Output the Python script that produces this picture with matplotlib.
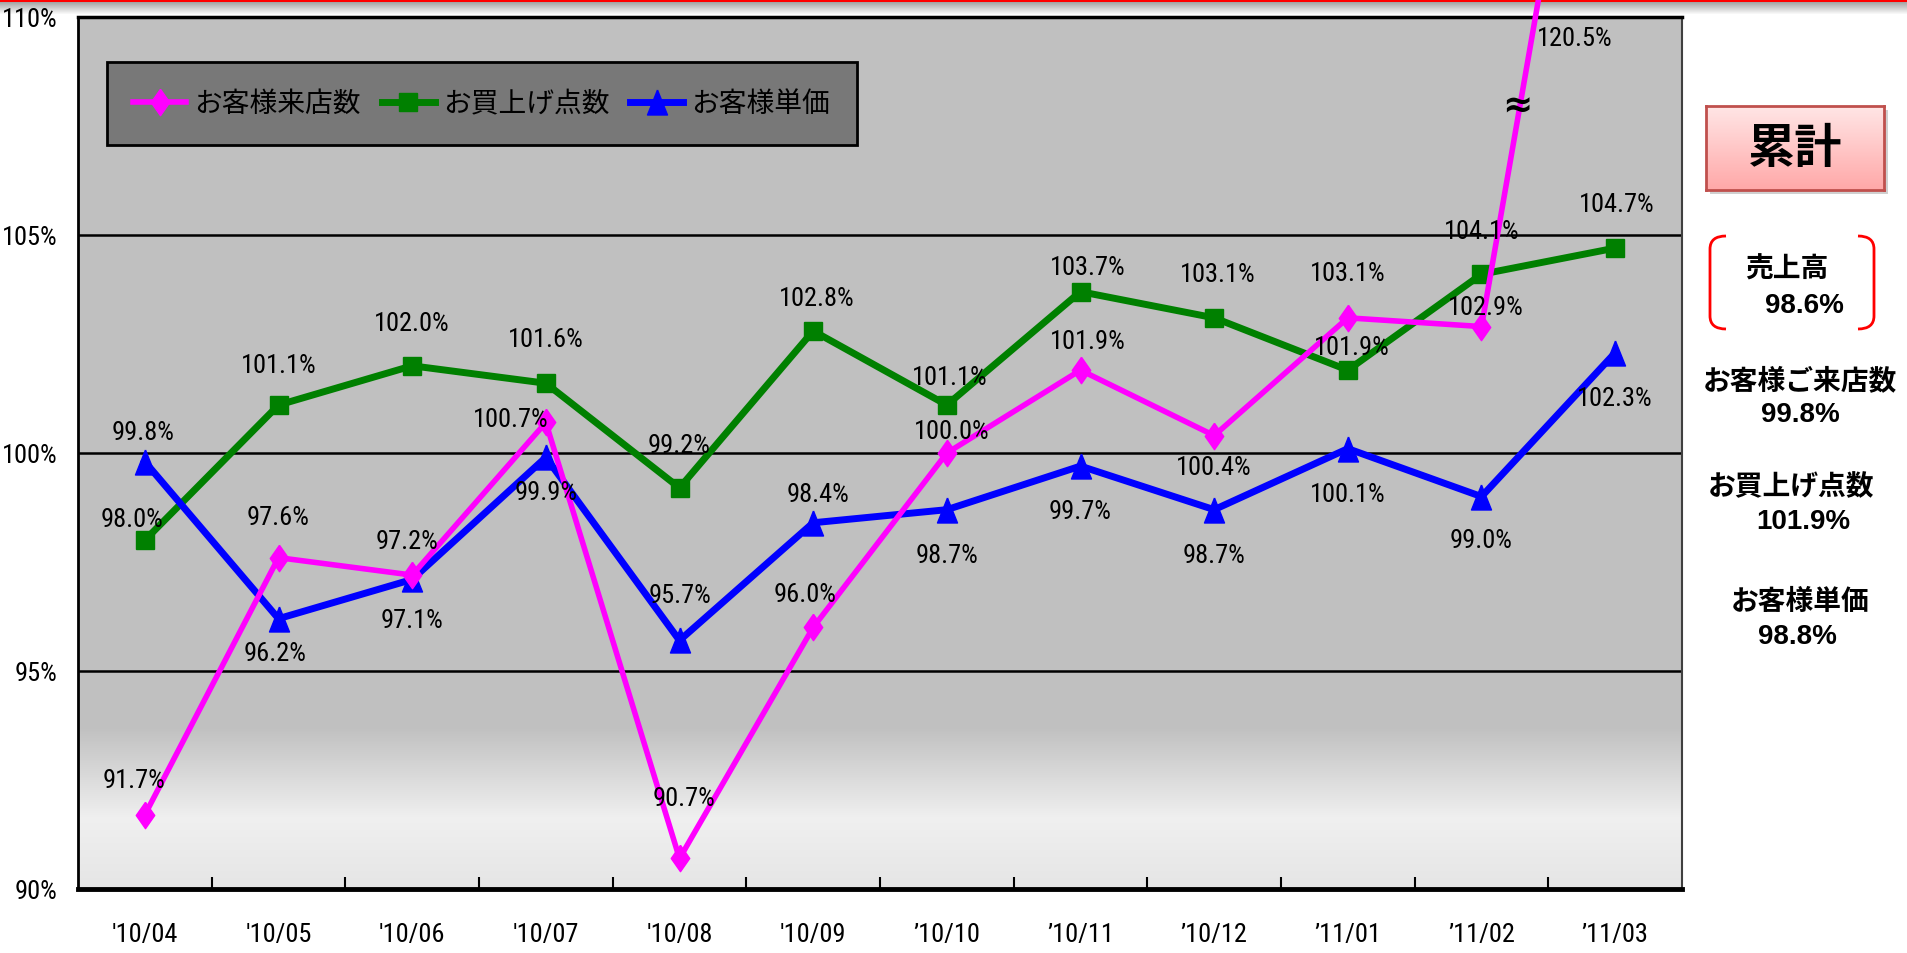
import numpy as np
import matplotlib
matplotlib.use('Agg')
import matplotlib.pyplot as plt
from matplotlib import font_manager
from matplotlib.font_manager import FontProperties
from matplotlib.path import Path
from matplotlib.patches import PathPatch, Rectangle

# データ
months = ["'10/04", "'10/05", "'10/06", "'10/07", "'10/08", "'10/09",
          "’10/10", "’10/11", "’10/12", "’11/01", "’11/02", "’11/03"]
raiten = [91.7, 97.6, 97.2, 100.7, 90.7, 96.0, 100.0, 101.9, 100.4, 103.1, 102.9, 120.5]
tensu = [98.0, 101.1, 102.0, 101.6, 99.2, 102.8, 101.1, 103.7, 103.1, 101.9, 104.1, 104.7]
tanka = [99.8, 96.2, 97.1, 99.9, 95.7, 98.4, 98.7, 99.7, 98.7, 100.1, 99.0, 102.3]
series_names = ['お客様来店数', 'お買上げ点数', 'お客様単価']
y_ticks = [90, 95, 100, 105, 110]

# 累計
ruikei_labels = ['売上高', 'お客様ご来店数', 'お買上げ点数', 'お客様単価']
ruikei_values = [98.6, 99.8, 101.9, 98.8]

W, H = 1907, 954
JP = ['Noto Sans CJK JP', 'DejaVu Sans']

# 細いフォントがあれば使う
narrow = None
for f in font_manager.fontManager.ttflist:
    nm = f.name
    if 'DejaVu' in nm or 'Mono' in nm or 'Serif' in nm:
        continue
    if f.weight not in (400, 'normal', 'regular', 'Regular'):
        continue
    if f.style != 'normal':
        continue
    if 'Narrow' in nm or 'Condensed' in nm or f.stretch in ('condensed', 'semi-condensed', 'extra-condensed'):
        narrow = f.fname
        if 'Liberation' in nm:
            break
if narrow:
    LBL = FontProperties(fname=narrow, size=19)
else:
    LBL = FontProperties(family='Liberation Sans', size=15)


def fx(px):
    return px / W


def fy(py):
    return 1 - py / H


fig = plt.figure(figsize=(W / 100, H / 100), dpi=100)

# 上の赤いライン
top = fig.add_axes([0, fy(16), 1, 16 / H], zorder=0)
strip = np.ones((16, 1, 3))
strip[:3] = [1.0, 0.0, 0.0]
strip[3:, 0, :] = np.linspace(0.65, 1.0, 13)[:, None]
top.imshow(strip, aspect='auto', extent=(0, 1, 0, 1))
top.axis('off')

ax = fig.add_axes([fx(78), fy(890), 1604 / W, 872 / H], zorder=2)
x = np.arange(len(months))

# 背景グラデーション
yy = np.linspace(110, 90, 400)
shade = np.interp(yy, [90, 91.6, 93.7, 110], [0.90, 0.94, 0.753, 0.753])
ax.imshow(shade[:, None, None] * np.ones((1, 1, 3)), extent=(-0.5, 11.5, 90, 110),
          aspect='auto', zorder=0)

for g in [95, 100, 105]:
    ax.axhline(g, color='black', lw=1.8, zorder=1)

diamond = [(0, 0.5), (0.35, 0), (0, -0.5), (-0.35, 0), (0, 0.5)]
tri = [(0, 0.5), (-0.4, -0.5), (0.4, -0.5), (0, 0.5)]

l1, = ax.plot(x, raiten, color='#ff00ff', lw=4, marker=diamond, ms=19,
              zorder=5, clip_on=False, label=series_names[0])
l2, = ax.plot(x, tensu, color='#008000', lw=5, marker='s', ms=13.5,
              zorder=3, label=series_names[1])
l3, = ax.plot(x, tanka, color='#0000ff', lw=5, marker=tri, ms=18,
              zorder=4, label=series_names[2])

# ラベル位置 (pixel offset)
raiten_off = [(-11, 35), (0, 41), (-5, 34), (-35, 3), (5, 60), (-8, 33),
              (5, 22), (7, 29), (0, -31), (0, 45), (4, 20), None]
tensu_off = [(-13, 21), (0, 40), (0, 43), (0, 44), (0, 43), (4, 33),
             (3, 28), (7, 25), (4, 44), (4, 23), (0, 43), (2, 44)]
tanka_off = [(-2, 30), (-3, -34), (0, -41), (0, -35), (0, 45), (5, 29),
             (0, -45), (0, -45), (0, -45), (0, -45), (0, -43), (0, -45)]

for vals, offs in [(raiten, raiten_off), (tensu, tensu_off), (tanka, tanka_off)]:
    for i, (v, o) in enumerate(zip(vals, offs)):
        if o is None:
            continue
        ax.annotate(f'{v:.1f}%', xy=(i, v), xytext=o, textcoords='offset pixels',
                    ha='center', va='center', fontproperties=LBL, zorder=6)

# 120.5% はグラフ外
ax.annotate(f'{raiten[-1]:.1f}%', xy=(11, 110), xytext=(-40, -21), textcoords='offset pixels',
            ha='center', va='center', fontproperties=LBL, zorder=6)
ax.annotate('≈', xy=(11, 110), xytext=(-98, -89), textcoords='offset pixels',
            ha='center', va='center', fontsize=26, fontweight='bold', family='DejaVu Sans', zorder=7)

ax.set_xlim(-0.5, 11.5)
ax.set_ylim(90, 110)
ax.set_xticks(x)
ax.set_xticklabels(months, fontproperties=LBL)
ax.set_xticks(np.arange(0.5, 11, 1), minor=True)
ax.tick_params(axis='x', which='major', length=0, pad=24)
ax.tick_params(axis='x', which='minor', length=9, width=1.5, direction='in', color='black')
ax.set_yticks(y_ticks)
ax.set_yticklabels([f'{t}%' for t in y_ticks], fontproperties=LBL)
ax.tick_params(axis='y', length=0, pad=15)

ax.spines['top'].set_linewidth(2.5)
ax.spines['left'].set_linewidth(2)
ax.spines['bottom'].set_linewidth(3.5)
ax.spines['right'].set_linewidth(1.5)
ax.spines['right'].set_color('#404040')

leg = ax.legend(handles=[l1, l2, l3], ncol=3, loc='upper left',
                bbox_to_anchor=(fx(107), fy(63)), bbox_transform=fig.transFigure,
                prop={'family': JP, 'size': 20}, frameon=True, fancybox=False,
                borderaxespad=0, handlelength=1.9, handletextpad=0.3,
                columnspacing=0.75, borderpad=0.95)
leg.get_frame().set_facecolor('#787878')
leg.get_frame().set_edgecolor('black')
leg.get_frame().set_linewidth(2)
leg.get_frame().set_alpha(1)
leg.set_zorder(8)

# 累計ボックス
bx0, by0, bx1, by1 = 1706, 107, 1884, 191
fig.patches.append(Rectangle((fx(bx0 + 4), fy(by1 + 4)), (bx1 - bx0) / W, (by1 - by0) / H,
                             transform=fig.transFigure, facecolor='#d0d0d0', edgecolor='none',
                             zorder=1))
box = fig.add_axes([fx(bx0), fy(by1), (bx1 - bx0) / W, (by1 - by0) / H], zorder=3)
pink = np.zeros((50, 1, 3))
pink[:, 0, 0] = 1.0
pink[:, 0, 1] = np.linspace(0.90, 0.66, 50)
pink[:, 0, 2] = np.linspace(0.90, 0.66, 50)
box.imshow(pink, aspect='auto', extent=(0, 1, 0, 1))
box.set_xticks([])
box.set_yticks([])
for s in box.spines.values():
    s.set_color('#c0504d')
    s.set_linewidth(2)
box.text(0.5, 0.5, '累計', ha='center', va='center', fontsize=34, fontweight='bold',
         family=JP, transform=box.transAxes)


# カッコ
def bracket(xv, xe, ytop, ybot, r=13):
    verts = [(xe, ytop), (xv, ytop), (xv, ytop + r), (xv, ybot - r), (xv, ybot), (xe, ybot)]
    codes = [Path.MOVETO, Path.CURVE3, Path.CURVE3, Path.LINETO, Path.CURVE3, Path.CURVE3]
    verts = [(fx(a), fy(b)) for a, b in verts]
    fig.patches.append(PathPatch(Path(verts, codes), transform=fig.transFigure,
                                 facecolor='none', edgecolor='red', lw=2))


bracket(1710, 1726, 237, 330)
bracket(1874, 1858, 237, 330)

label_pos = [(1787, 270), (1800, 381), (1791, 487), (1800, 602)]
value_pos = [(1804, 306), (1800, 415), (1803, 522), (1797, 637)]
for lab, val, lp, vp in zip(ruikei_labels, ruikei_values, label_pos, value_pos):
    fig.text(fx(lp[0]), fy(lp[1]), lab, ha='center', va='center', fontsize=20,
             fontweight='bold', family=JP)
    fig.text(fx(vp[0]), fy(vp[1]), f'{val:.1f}%', ha='center', va='center', fontsize=20,
             fontweight='bold', family=['Liberation Sans', 'DejaVu Sans'])

fig.savefig('out.png', dpi=100)
